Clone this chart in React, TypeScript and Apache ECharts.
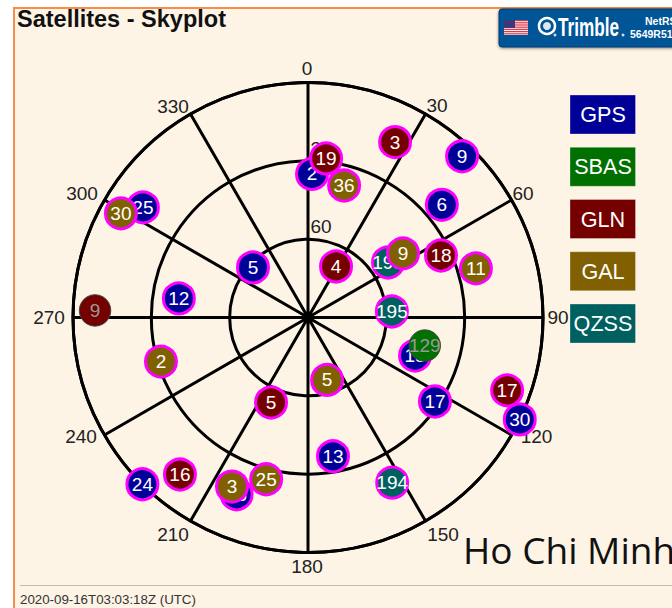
import React, { useEffect, useRef } from "react";
import * as echarts from "echarts";

// [prn, azimuth deg, elevation deg, draw layer]
type Sat = [string, number, number, number];

const gpsSats: Sat[] = [
  ["2", 1.6, 35, 1], ["25", 303.7, 14, 1], ["9", 43.7, 4.6, 1], ["6", 49.9, 23, 1],
  ["5", 312.3, 61.5, 1], ["12", 278.4, 40, 1], ["15", 109.6, 46.5, 1], ["17", 123.5, 31.7, 1],
  ["30", 115.7, 0, 4], ["13", 169.8, 36, 1], ["24", 224.8, 0, 1], ["15", 202, 17, 1],
];
const sbasSats: Sat[] = [["129", 103.5, 44, 4]];
const glnSats: Sat[] = [
  ["19", 6.5, 28.7, 2], ["3", 26.4, 15, 2], ["4", 28.8, 67.7, 2], ["18", 65, 33.8, 2],
  ["17", 110.1, 8.8, 2], ["5", 203.5, 54.5, 2], ["16", 219.2, 12.4, 2], ["9", 271.9, 8.4, 2],
];
const galSats: Sat[] = [
  ["36", 15.3, 37.6, 3], ["30", 299.1, 8, 3], ["9", 56, 46.1, 3], ["11", 73.7, 23, 3],
  ["2", 253.3, 31.2, 3], ["5", 163, 65, 3], ["25", 194.5, 26, 3], ["3", 204.2, 19, 3],
];
const qzssSats: Sat[] = [["193", 55.5, 52.8, 0], ["195", 85.9, 57.8, 0], ["194", 153, 19, 0]];

const systemNames = ["GPS", "SBAS", "GLN", "GAL", "QZSS"];
const systemColors = ["#000099", "#007000", "#750000", "#806000", "#006060"];
const systemSats = [gpsSats, sbasSats, glnSats, galSats, qzssSats];
const unusedSats = ["SBAS-129", "GLN-9"];

const azimuthTicks = [0, 30, 60, 90, 120, 150, 180, 210, 240, 270, 300, 330];
const azimuthLabelOffsets = [
  [-1, -14.5], [11.5, -8], [11.5, -7], [15, 0], [25, 1], [17.5, 13],
  [-1, 13.5], [-17.5, 13], [-23.5, 1], [-24, 0], [-22.5, -7], [-17.5, -7],
];

const PAGE_BG = "#fef4e5";
const SANS = "'Liberation Sans'";

function badge(): any[] {
  const stripes: any[] = [];
  for (let i = 0; i < 7; i++) {
    stripes.push({
      type: "rect",
      shape: { x: 504, y: 20 + i * 2.2, width: 24, height: 1.2 },
      style: { fill: "#e0374a" },
    });
  }
  return [
    {
      type: "rect",
      shape: { x: 499, y: 9, width: 200, height: 38, r: 3 },
      style: { fill: "#005596", stroke: "#003a78", lineWidth: 1, shadowColor: "rgba(0,0,0,0.45)", shadowBlur: 3, shadowOffsetY: 1 },
    },
    { type: "rect", shape: { x: 504, y: 20, width: 24, height: 15 }, style: { fill: "#f4f4f4" } },
    ...stripes,
    { type: "rect", shape: { x: 504, y: 20, width: 11, height: 8 }, style: { fill: "#3a3a7a" } },
    { type: "circle", shape: { cx: 547, cy: 26, r: 8 }, style: { fill: "none", stroke: "#fff", lineWidth: 2.5 } },
    { type: "circle", shape: { cx: 547, cy: 26, r: 4 }, style: { fill: "#dfe8f0" } },
    { type: "circle", shape: { cx: 555, cy: 35, r: 1.5 }, style: { fill: "#cfdbe8" } },
    {
      type: "text", x: 558, y: 27, scaleX: 0.66, scaleY: 1,
      style: { text: "Trimble", fill: "#fff", font: `bold 26px ${SANS}`, textVerticalAlign: "middle" },
    },
    { type: "circle", shape: { cx: 623, cy: 35, r: 1.5 }, style: { fill: "#cfdbe8" } },
    {
      type: "text", x: 645, y: 21,
      style: { text: "NetRS", fill: "#fff", font: `bold 10.5px ${SANS}`, textVerticalAlign: "middle" },
    },
    {
      type: "text", x: 630, y: 34,
      style: { text: "5649R51", fill: "#fff", font: `bold 10.5px ${SANS}`, textVerticalAlign: "middle" },
    },
  ];
}

function legendBoxes(): any[] {
  const out: any[] = [];
  systemNames.forEach((name, i) => {
    const y = 95 + i * 52.25;
    out.push({
      type: "rect",
      shape: { x: 570, y, width: 65.5, height: 39 },
      style: { fill: systemColors[i], stroke: "rgba(255,255,255,0.3)", lineWidth: 1 },
      z: 3,
    });
    out.push({
      type: "text", x: 603, y: y + 19.5, z: 4,
      style: { text: name, fill: "#fff", font: `21.6px ${SANS}`, textAlign: "center", textVerticalAlign: "middle" },
    });
  });
  return out;
}

export default function App() {
  const ref = useRef<HTMLDivElement>(null);
  useEffect(() => {
    document.body.style.margin = "0";
    document.body.style.overflow = "hidden";
    const chart = echarts.init(ref.current!, undefined, { renderer: "svg" });

    const all: { sat: Sat; sys: number }[] = [];
    systemSats.forEach((list, sys) => list.forEach((sat) => all.push({ sat, sys })));
    const ordered = all
      .map((d, i) => ({ ...d, i }))
      .sort((a, b) => a.sat[3] - b.sat[3] || a.i - b.i);

    const series: any[] = ordered.map(({ sat, sys }, idx) => {
      const unused = unusedSats.includes(`${systemNames[sys]}-${sat[0]}`);
      return {
        type: "scatter",
        coordinateSystem: "polar",
        z: 10 + idx,
        symbol: "circle",
        symbolSize: unused ? 31.5 : 31,
        silent: true,
        data: [[sat[2], sat[1]]],
        itemStyle: {
          color: systemColors[sys],
          opacity: 1,
          borderColor: unused ? "#444" : "#ff00ff",
          borderWidth: unused ? 1 : 3,
        },
        label: {
          show: true,
          position: "inside",
          formatter: sat[0],
          color: unused ? "#999" : "#fff",
          fontSize: 19,
          fontFamily: SANS,
        },
      };
    });

    // Azimuth tick labels, anchored on the outer ring through the polar axes
    series.push({
      type: "scatter",
      coordinateSystem: "polar",
      z: 5,
      symbolSize: 0,
      silent: true,
      itemStyle: { opacity: 1 },
      data: azimuthTicks.map((az, i) => ({
        value: [0, az],
        label: {
          show: true,
          position: "inside",
          offset: azimuthLabelOffsets[i],
          formatter: String(az),
          color: "#222",
          fontSize: 19,
          fontFamily: SANS,
        },
      })),
    });

    chart.setOption({
      animation: false,
      backgroundColor: "#fff",
      title: {
        text: "Satellites - Skyplot",
        left: 17,
        top: 7,
        padding: 0,
        textStyle: { fontFamily: SANS, fontWeight: "bold", fontSize: 23.5, color: "#111" },
      },
      polar: { center: [308, 317.5], radius: 235 },
      angleAxis: {
        type: "value",
        min: 0,
        max: 360,
        interval: 30,
        startAngle: 90,
        clockwise: true,
        axisLine: { show: true, lineStyle: { color: "#000", width: 3 } },
        axisTick: { show: false },
        splitLine: { show: true, lineStyle: { color: "#000", width: 3 } },
        axisLabel: { show: false },
      },
      radiusAxis: {
        type: "value",
        min: 0,
        max: 90,
        interval: 30,
        inverse: true,
        axisLine: { show: false },
        axisTick: { show: false },
        splitLine: { show: true, lineStyle: { color: "#000", width: 3 } },
        axisLabel: {
          show: true,
          fontSize: 19,
          color: "#222",
          fontFamily: SANS,
          align: "center",
          verticalAlign: "bottom",
          padding: [0, 0, 3, 0],
          margin: -13,
          formatter: (v: number) => (v === 30 || v === 60 ? String(v) : ""),
        },
      },
      graphic: [
        {
          type: "rect", z: -10, silent: true,
          shape: { x: 14, y: 8, width: 900, height: 900 },
          style: { fill: PAGE_BG, stroke: "#f58d4b", lineWidth: 2 },
        },
        { type: "group", z: 2, children: badge() },
        ...legendBoxes(),
        {
          type: "text", x: 463, y: 549,
          style: { text: "Ho Chi Minh", fill: "#111", font: "37px 'Open Sans'", textVerticalAlign: "middle" },
        },
        { type: "rect", shape: { x: 20, y: 585, width: 660, height: 1 }, style: { fill: "#bbb" } },
        {
          type: "text", x: 20, y: 599.5,
          style: { text: "2020-09-16T03:03:18Z (UTC)", fill: "#333", font: `13.3px ${SANS}`, textVerticalAlign: "middle" },
        },
      ],
      series,
    });
    return () => chart.dispose();
  }, []);
  return <div ref={ref} style={{ position: "absolute", left: 0, top: 0, width: 672, height: 608 }} />;
}
